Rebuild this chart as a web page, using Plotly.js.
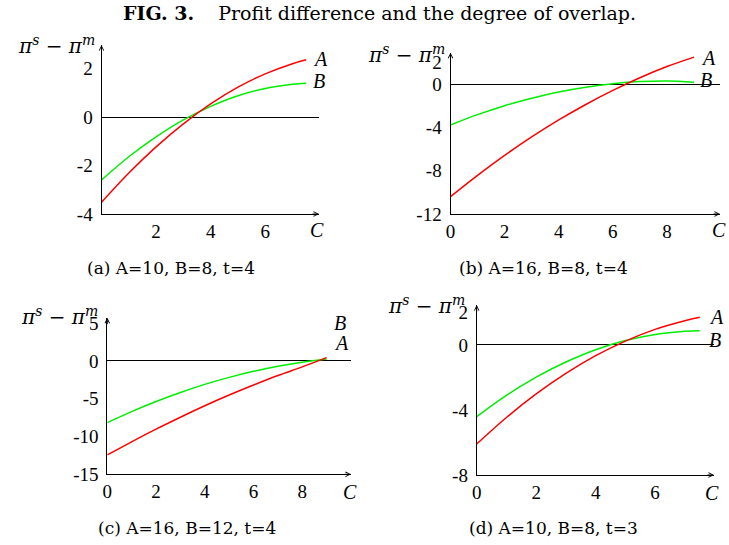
<!DOCTYPE html>
<html><head><meta charset="utf-8">
<script src="https://cdn.plot.ly/plotly-3.0.1.min.js"></script>
<style>html,body{margin:0;padding:0;background:#fff}#chart{width:729px;height:545px}</style>
</head><body><div id="chart"></div>
<script>
// ---------- data ----------
const titleBold = "FIG. 3.";
const titleText = "Profit difference and the degree of overlap.";
const captions = ["(a) A=10, B=8, t=4", "(b) A=16, B=8, t=4", "(c) A=16, B=12, t=4", "(d) A=10, B=8, t=3"];

const xA_a = [0, 1, 2, 3, 4, 5, 6, 7, 7.5];
const yA_a = [-3.52, -2.31, -1.23, -0.28, 0.54, 1.23, 1.78, 2.2, 2.36];
const yB_a = [-2.6, -1.64, -0.82, -0.12, 0.44, 0.88, 1.18, 1.35, 1.39];

const xA_b = [0, 1, 2, 3, 4, 5, 6, 7, 8, 9];
const yA_b = [-10.4, -8.43, -6.59, -4.89, -3.32, -1.89, -0.59, 0.58, 1.61, 2.48];
const yB_b = [-3.78, -2.83, -2.0, -1.31, -0.73, -0.29, 0.03, 0.22, 0.28, 0.17];

const xA_c = [0, 1, 2, 3, 4, 5, 6, 7, 8, 9];
const yA_c = [-12.44, -10.7, -9.03, -7.45, -5.93, -4.51, -3.18, -1.92, -0.78, 0.44];
const yB_c = [-8.16, -6.7, -5.37, -4.17, -3.1, -2.17, -1.37, -0.69, -0.16, 0.25];

const xA_d = [0, 1, 2, 3, 4, 5, 6, 7, 7.5];
const yA_d = [-6.09, -4.46, -3.01, -1.75, -0.66, 0.24, 0.96, 1.49, 1.7];
const yB_d = [-4.41, -3.1, -1.98, -1.05, -0.29, 0.27, 0.65, 0.85, 0.88];

const xTicks_a = [2, 4, 6];       const xTickText_a = ["2", "4", "6"];
const yTicks_a = [-4, -2, 0, 2];  const yTickText_a = ["-4", "-2", "0", "2"];
const xTicks_b = [0, 2, 4, 6, 8]; const xTickText_b = ["0", "2", "4", "6", "8"];
const yTicks_b = [-12, -8, -4, 0, 2]; const yTickText_b = ["-12", "-8", "-4", "0", "2"];
const xTicks_c = [0, 2, 4, 6, 8]; const xTickText_c = ["0", "2", "4", "6", "8"];
const yTicks_c = [-15, -10, -5, 0, 5]; const yTickText_c = ["-15", "-10", "-5", "0", "5"];
const xTicks_d = [0, 2, 4, 6];    const xTickText_d = ["0", "2", "4", "6"];
const yTicks_d = [-8, -4, 0, 2];  const yTickText_d = ["-8", "-4", "0", "2"];

const xRange_a = [0, 7.97], yRange_a = [-4, 2.97];
const xRange_b = [0, 9.96], yRange_b = [-12, 2.89];
const xRange_c = [0, 10],   yRange_c = [-15, 5.73];
const xRange_d = [0, 7.98], yRange_d = [-8, 2.46];

// ---------- layout helpers ----------
const W = 729, H = 545;
const px = v => v / W, py = v => 1 - v / H;
const FONT = "Liberation Serif";
const WIDE = "DejaVu Serif";
const RED = "#ff0000", GREEN = "#00ee00";

// pixel boxes: left, right, bottom, top
const boxes = [
  {l: 101.5, r: 319, b: 214, t: 45},
  {l: 450.5, r: 720, b: 214, t: 52.7},
  {l: 107.3, r: 351, b: 474.3, t: 317.7},
  {l: 476.7, r: 714, b: 475, t: 305}
];

const panels = [
  {x: xA_a, yA: yA_a, yB: yB_a, xt: xTicks_a, xtt: xTickText_a, yt: yTicks_a, ytt: yTickText_a, xr: xRange_a, yr: yRange_a},
  {x: xA_b, yA: yA_b, yB: yB_b, xt: xTicks_b, xtt: xTickText_b, yt: yTicks_b, ytt: yTickText_b, xr: xRange_b, yr: yRange_b},
  {x: xA_c, yA: yA_c, yB: yB_c, xt: xTicks_c, xtt: xTickText_c, yt: yTicks_c, ytt: yTickText_c, xr: xRange_c, yr: yRange_c},
  {x: xA_d, yA: yA_d, yB: yB_d, xt: xTicks_d, xtt: xTickText_d, yt: yTicks_d, ytt: yTickText_d, xr: xRange_d, yr: yRange_d}
];

// label positions (pixels; A/B given as left edge)
const labelPos = [
  {A: [311, 59], B: [311, 81], C: [317, 230], Y: [97, 45], cap: [171, 268]},
  {A: [699, 58], B: [698, 80], C: [719, 230], Y: [447, 54], cap: [543, 268]},
  {A: [332, 343], B: [332, 323], C: [350, 492], Y: [100, 316], cap: [187, 528]},
  {A: [707, 317], B: [707, 340], C: [712, 493], Y: [467, 305], cap: [553, 528]}
];

const data = [];
const layout = {
  width: W, height: H, margin: {l: 0, r: 0, t: 0, b: 0},
  paper_bgcolor: "#fff", plot_bgcolor: "rgba(0,0,0,0)",
  showlegend: false, font: {family: FONT, color: "#000"},
  annotations: []
};

panels.forEach((p, i) => {
  const n = i === 0 ? "" : String(i + 1);
  const xa = "x" + n, ya = "y" + n;
  data.push({x: p.x, y: p.yB, xaxis: xa, yaxis: ya, mode: "lines", line: {color: GREEN, width: 1.5, shape: "spline"}, hoverinfo: "skip"});
  data.push({x: p.x, y: p.yA, xaxis: xa, yaxis: ya, mode: "lines", line: {color: RED, width: 1.5, shape: "spline"}, hoverinfo: "skip"});
  const b = boxes[i];
  layout["xaxis" + n] = {
    domain: [px(b.l), px(b.r)], anchor: ya, range: p.xr,
    showline: true, linecolor: "#000", linewidth: 1, ticks: "", showgrid: false, zeroline: false,
    tickvals: p.xt, ticktext: p.xtt, tickfont: {family: FONT, size: 19, color: "#000"}, fixedrange: true
  };
  layout["yaxis" + n] = {
    domain: [py(b.b), py(b.t)], anchor: xa, range: p.yr,
    showline: true, linecolor: "#000", linewidth: 1, ticks: "", showgrid: false,
    zeroline: true, zerolinecolor: "#000", zerolinewidth: 1, ticklabelstandoff: 4,
    tickvals: p.yt, ticktext: p.ytt, tickfont: {family: FONT, size: 19, color: "#000"}, fixedrange: true
  };
  // axis arrow heads
  layout.annotations.push({xref: xa, yref: ya, x: p.xr[1], y: p.yr[0], ax: -8, ay: 0, text: "", showarrow: true,
    arrowhead: 5, arrowsize: 0.9, arrowwidth: 1, arrowcolor: "#000", standoff: 0});
  layout.annotations.push({xref: xa, yref: ya, x: 0, y: p.yr[1], ax: 0, ay: 8, text: "", showarrow: true,
    arrowhead: 5, arrowsize: 0.9, arrowwidth: 1, arrowcolor: "#000", standoff: 0});
  const L = labelPos[i];
  const ann = (pos, text, size, xanchor, fam) => layout.annotations.push({xref: "paper", yref: "paper",
    x: px(pos[0]), y: py(pos[1]), text: text, showarrow: false, xanchor: xanchor, yanchor: "middle",
    font: {family: fam || FONT, size: size, color: "#000"}});
  ann(L.A, "<i>A</i>", 20, "left");
  ann(L.B, "<i>B</i>", 20, "left");
  ann(L.C, "<i>C</i>", 20, "center");
  ann(L.Y, "<i>π</i><sup><i>s</i></sup> − <i>π</i><sup><i>m</i></sup>", 20, "right", WIDE);
  ann(L.cap, captions[i], 17, "center", WIDE);
});

layout.annotations.push({xref: "paper", yref: "paper", x: px(379), y: py(13), xanchor: "center", yanchor: "middle",
  text: "<b>" + titleBold + "</b>&nbsp;&nbsp;&nbsp;&nbsp;" + titleText, showarrow: false,
  font: {family: WIDE, size: 19, color: "#000"}});

Plotly.newPlot("chart", data, layout, {staticPlot: true, displayModeBar: false});
</script></body></html>
